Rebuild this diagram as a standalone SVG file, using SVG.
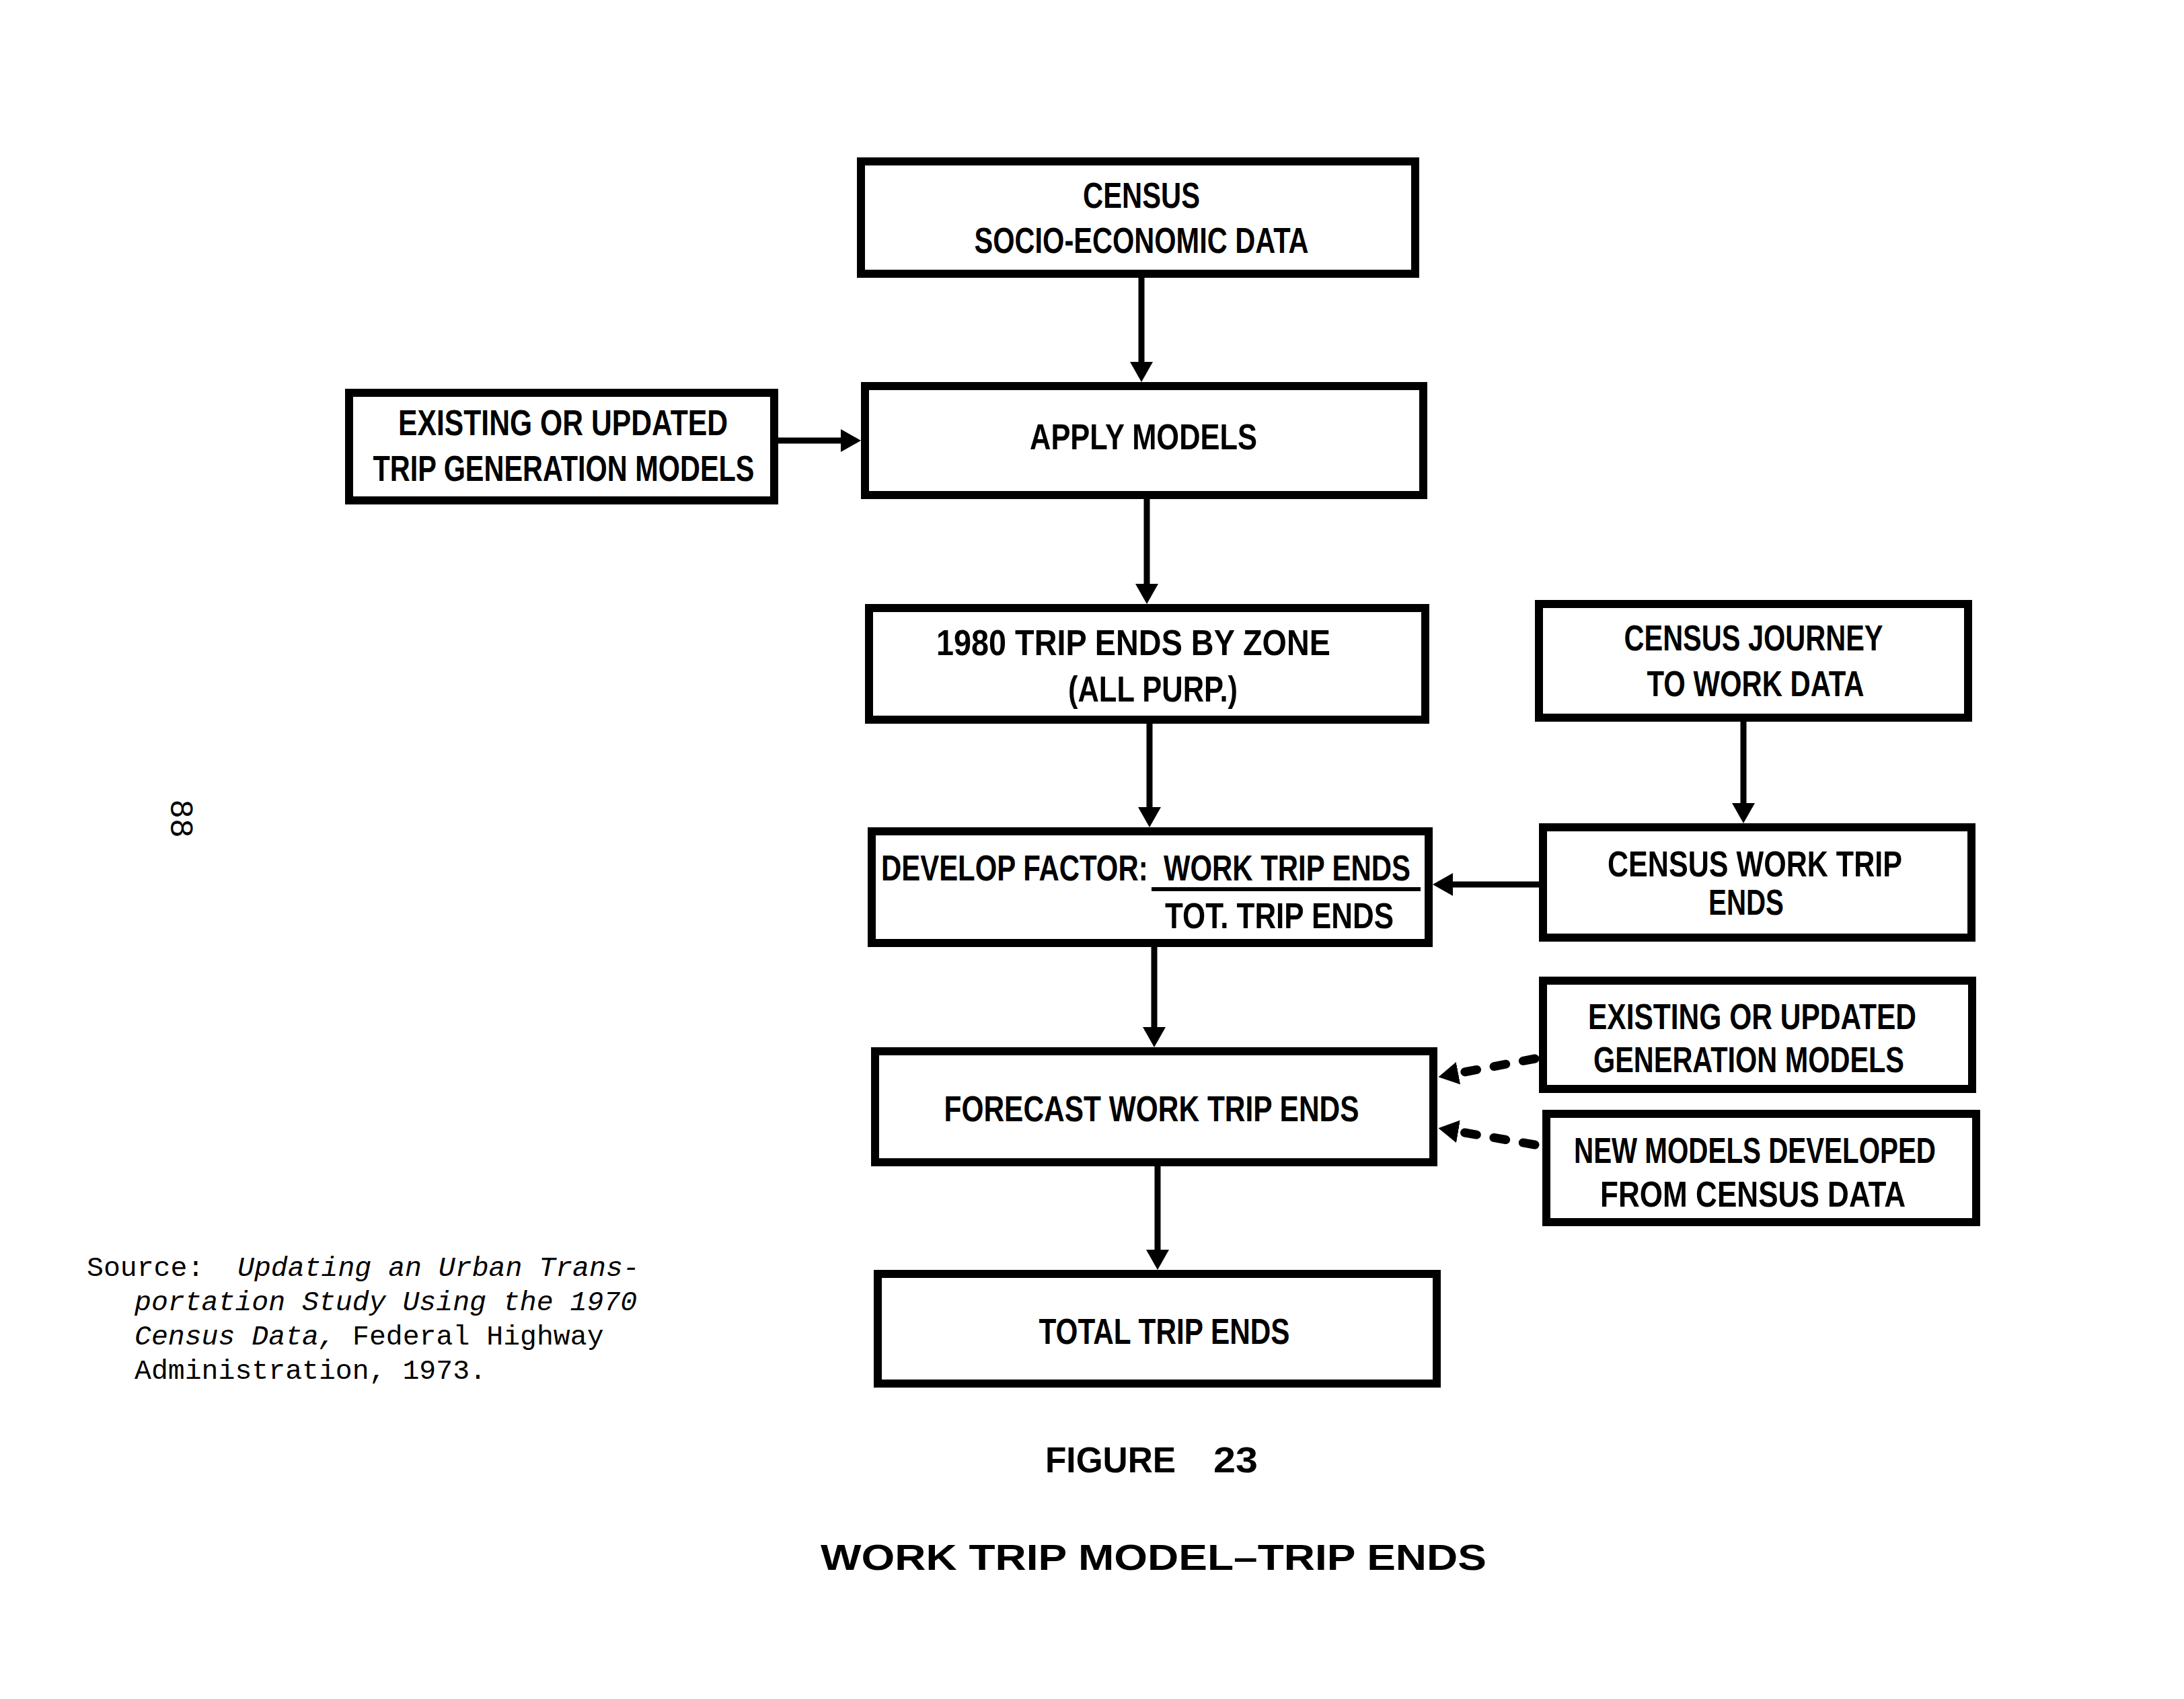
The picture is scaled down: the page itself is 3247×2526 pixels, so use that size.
<svg xmlns="http://www.w3.org/2000/svg" width="3247" height="2526" viewBox="0 0 3247 2526">
<style>
.box{fill:#fff;stroke:#000;stroke-width:12}
.t{font-family:"Liberation Sans",Arial,sans-serif;font-weight:bold;font-size:54px;fill:#000}
.c{text-anchor:middle}
.ln{stroke:#000;stroke-width:9;fill:none}
.dash{stroke:#000;stroke-width:13;fill:none;stroke-dasharray:18 26;stroke-linecap:round}
.src{font-family:"Liberation Mono","Courier New",monospace;font-size:41.5px;fill:#000}
.it{font-style:italic}
</style>
<defs>
<marker id="ah" markerUnits="userSpaceOnUse" markerWidth="30" markerHeight="34" viewBox="0 0 30 34" refX="2" refY="17" orient="auto">
<path d="M0,0 L30,17 L0,34 z" fill="#000"/>
</marker>
</defs>
<rect width="3247" height="2526" fill="#fff"/>

<g id="connectors">
<line class="ln" x1="1697" y1="413" x2="1697" y2="540" marker-end="url(#ah)"/>
<line class="ln" x1="1157" y1="655" x2="1252" y2="655" marker-end="url(#ah)"/>
<line class="ln" x1="1705" y1="742" x2="1705" y2="870" marker-end="url(#ah)"/>
<line class="ln" x1="1709" y1="1076" x2="1709" y2="1202" marker-end="url(#ah)"/>
<line class="ln" x1="2592" y1="1073" x2="2592" y2="1196" marker-end="url(#ah)"/>
<line class="ln" x1="2288" y1="1315" x2="2158" y2="1315" marker-end="url(#ah)"/>
<line class="ln" x1="1716" y1="1408" x2="1716" y2="1529" marker-end="url(#ah)"/>
<line class="ln" x1="1721" y1="1734" x2="1721" y2="1860" marker-end="url(#ah)"/>
<line class="dash" x1="2282" y1="1574" x2="2166" y2="1596" marker-end="url(#ah)"/>
<line class="dash" x1="2282" y1="1702" x2="2166" y2="1682" marker-end="url(#ah)"/>
</g>

<g id="census">
<rect class="box" x="1280" y="240" width="824" height="167"/>
<text class="t c" x="1697" y="309" textLength="174" lengthAdjust="spacingAndGlyphs">CENSUS</text>
<text class="t c" x="1697" y="376" textLength="497" lengthAdjust="spacingAndGlyphs">SOCIO-ECONOMIC DATA</text>
</g>

<g id="apply">
<rect class="box" x="1286" y="574" width="830" height="162"/>
<text class="t c" x="1700" y="668" textLength="338" lengthAdjust="spacingAndGlyphs">APPLY MODELS</text>
</g>

<g id="existing-trip-gen">
<rect class="box" x="519" y="584" width="632" height="160"/>
<text class="t c" x="837" y="647" textLength="490" lengthAdjust="spacingAndGlyphs">EXISTING OR UPDATED</text>
<text class="t c" x="838" y="715" textLength="567" lengthAdjust="spacingAndGlyphs">TRIP GENERATION MODELS</text>
</g>

<g id="trip-ends-1980">
<rect class="box" x="1292" y="904" width="827" height="166"/>
<text class="t c" x="1685" y="974" textLength="586" lengthAdjust="spacingAndGlyphs">1980 TRIP ENDS BY ZONE</text>
<text class="t c" x="1714" y="1043" textLength="252" lengthAdjust="spacingAndGlyphs">(ALL PURP.)</text>
</g>

<g id="develop-factor">
<rect class="box" x="1296" y="1236" width="828" height="166"/>
<text class="t" x="1310" y="1309" font-size="50" xml:space="preserve" textLength="787" lengthAdjust="spacingAndGlyphs">DEVELOP FACTOR:  WORK TRIP ENDS</text>
<line x1="1712" y1="1322" x2="2112" y2="1322" stroke="#000" stroke-width="6"/>
<text class="t" x="1732" y="1380" font-size="50" textLength="340" lengthAdjust="spacingAndGlyphs">TOT. TRIP ENDS</text>
</g>

<g id="census-journey">
<rect class="box" x="2288" y="898" width="638" height="169"/>
<text class="t c" x="2607" y="967" textLength="385" lengthAdjust="spacingAndGlyphs">CENSUS JOURNEY</text>
<text class="t c" x="2610" y="1035" textLength="323" lengthAdjust="spacingAndGlyphs">TO WORK DATA</text>
</g>

<g id="census-work-trip-ends">
<rect class="box" x="2294" y="1230" width="637" height="164"/>
<text class="t c" x="2609" y="1303" textLength="438" lengthAdjust="spacingAndGlyphs">CENSUS WORK TRIP</text>
<text class="t c" x="2596" y="1360" textLength="112" lengthAdjust="spacingAndGlyphs">ENDS</text>
</g>

<g id="forecast">
<rect class="box" x="1301" y="1563" width="830" height="165"/>
<text class="t c" x="1712" y="1667" textLength="617" lengthAdjust="spacingAndGlyphs">FORECAST WORK TRIP ENDS</text>
</g>

<g id="total-trip-ends">
<rect class="box" x="1305" y="1894" width="831" height="163"/>
<text class="t c" x="1731" y="1998" textLength="373" lengthAdjust="spacingAndGlyphs">TOTAL TRIP ENDS</text>
</g>

<g id="existing-generation">
<rect class="box" x="2294" y="1458" width="638" height="161"/>
<text class="t c" x="2605" y="1530" textLength="488" lengthAdjust="spacingAndGlyphs">EXISTING OR UPDATED</text>
<text class="t c" x="2600" y="1594" textLength="462" lengthAdjust="spacingAndGlyphs">GENERATION MODELS</text>
</g>

<g id="new-models">
<rect class="box" x="2299" y="1656" width="639" height="161"/>
<text class="t c" x="2609" y="1729" textLength="538" lengthAdjust="spacingAndGlyphs">NEW MODELS DEVELOPED</text>
<text class="t c" x="2606" y="1794" textLength="454" lengthAdjust="spacingAndGlyphs">FROM CENSUS DATA</text>
</g>

<g id="caption">
<text class="t" x="1554" y="2189" font-size="54" textLength="194" lengthAdjust="spacingAndGlyphs">FIGURE</text>
<text class="t" x="1804" y="2189" font-size="54" textLength="66" lengthAdjust="spacingAndGlyphs">23</text>
<text class="t" x="1220" y="2334" font-size="80" textLength="990" lengthAdjust="spacingAndGlyphs">WORK TRIP MODEL–TRIP ENDS</text>
</g>

<g id="source">
<text class="src" x="129" y="1897">Source:<tspan class="it" x="353">Updating an Urban Trans-</tspan></text>
<text class="src it" x="200" y="1948">portation Study Using the 1970</text>
<text class="src" x="200" y="1999"><tspan class="it">Census Data,</tspan><tspan x="524">Federal Highway</tspan></text>
<text class="src" x="200" y="2050">Administration, 1973.</text>
</g>

<g id="page-number">
<text x="267" y="1217" font-family="Liberation Mono,monospace" font-size="48" text-anchor="middle" dominant-baseline="central" transform="rotate(90 267 1217)">88</text>
</g>
</svg>
